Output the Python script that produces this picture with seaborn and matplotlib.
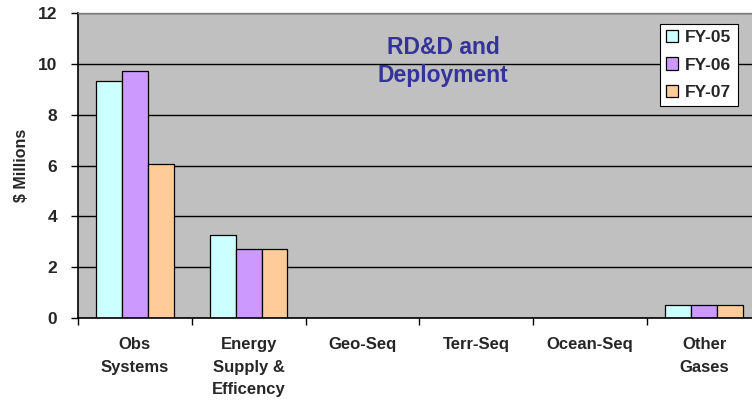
import matplotlib
matplotlib.use("Agg")
import matplotlib.pyplot as plt
import seaborn as sns
import pandas as pd
from matplotlib.ticker import FixedLocator

categories = ["Obs\nSystems", "Energy\nSupply &\nEfficency", "Geo-Seq", "Terr-Seq", "Ocean-Seq", "Other\nGases"]
years = ["FY-05", "FY-06", "FY-07"]
fy05 = [9.33, 3.27, 0, 0, 0, 0.5]
fy06 = [9.72, 2.72, 0, 0, 0, 0.5]
fy07 = [6.05, 2.72, 0, 0, 0, 0.5]
colors = ["#CCFFFF", "#CC99FF", "#FFCC99"]
yticks = [0, 2, 4, 6, 8, 10, 12]

rows = []
for yr, vals in zip(years, [fy05, fy06, fy07]):
    for c, v in zip(categories, vals):
        rows.append({"cat": c, "year": yr, "val": v})
df = pd.DataFrame(rows)

sns.set_theme(style="white")
plt.rcParams['font.family'] = ['Liberation Sans', 'DejaVu Sans']

fig = plt.figure(figsize=(7.52, 4.04), dpi=100)
ax = fig.add_axes([77.9/752, 86/404, (761-77.9)/752, (318-13)/404])
ax.set_facecolor("#C0C0C0")

sns.barplot(data=df, x="cat", y="val", hue="year", order=categories, hue_order=years,
            palette=colors, width=0.68, gap=0, edgecolor="black", linewidth=0.9,
            saturation=1, ax=ax, legend=True)

ax.set_ylim(0, 12)
ax.set_xlim(-0.5, len(categories) - 0.5)
ax.set_yticks(yticks)
ax.set_yticklabels([str(t) for t in yticks], fontsize=12.5, fontweight="bold")
ax.yaxis.grid(True, color="black", linewidth=1)
ax.set_axisbelow(True)
ax.tick_params(axis="y", direction="out", length=5, width=1, color="black", left=True, pad=10)

ax.set_xticks(range(len(categories)))
ax.set_xticklabels(categories, fontsize=12, fontweight="bold", linespacing=1.62)
ax.tick_params(axis="x", which="major", length=0, pad=14)
ax.xaxis.set_minor_locator(FixedLocator([i + 0.5 for i in range(-1, len(categories))]))
ax.tick_params(axis="x", which="minor", direction="out", length=5, width=1, color="black", bottom=True)
for lbl in ax.get_xticklabels():
    lbl.set_verticalalignment("top")

for s in ["left", "bottom"]:
    ax.spines[s].set_color("black")
    ax.spines[s].set_linewidth(1.2)
ax.spines["top"].set_color("#808080")
ax.spines["top"].set_linewidth(1)
ax.spines["right"].set_visible(False)

ax.set_xlabel("")
ax.set_ylabel("$ Millions", fontsize=11.5, fontweight="bold", labelpad=6)

ax.text(2.71, 10.1, "RD&D and\nDeployment", ha="center", va="center", fontsize=16.5,
        fontweight="bold", color="#333399", linespacing=1.25)

leg = ax.legend(loc="upper left", bbox_to_anchor=(660/752, 1 - 24/404), bbox_transform=fig.transFigure,
                frameon=True, fancybox=False, framealpha=1, edgecolor="black", facecolor="white",
                prop={"weight": "bold", "size": 12.5}, handlelength=0.7, handleheight=0.7,
                handletextpad=0.4, labelspacing=0.7, borderpad=0.35, borderaxespad=0)
leg.get_frame().set_linewidth(0.8)

fig.savefig("out.png", dpi=100)
